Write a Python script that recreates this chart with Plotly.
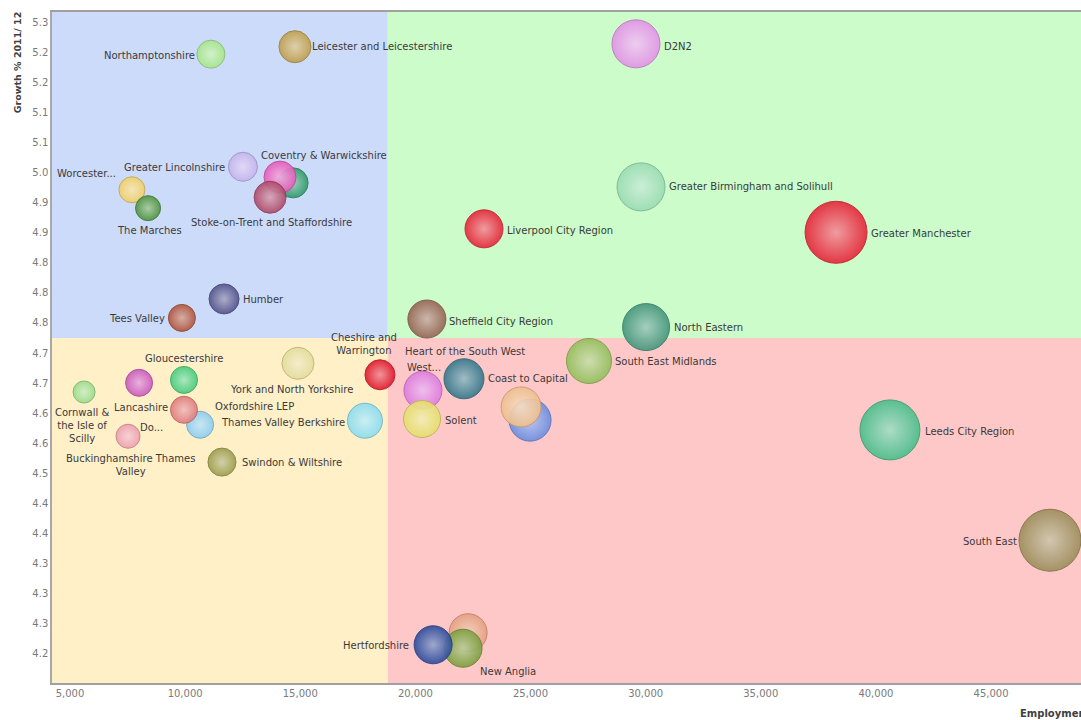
import plotly.graph_objects as go

# ---------------- data ----------------
lep_names = [
    "Northamptonshire", "Leicester and Leicestershire", "D2N2",
    "Worcestershire", "The Marches", "Greater Lincolnshire",
    "Black Country", "Coventry & Warwickshire", "Stoke-on-Trent and Staffordshire",
    "Humber", "Tees Valley", "Greater Birmingham and Solihull",
    "Liverpool City Region", "Greater Manchester", "Sheffield City Region",
    "North Eastern", "South East Midlands", "Cheshire and Warrington",
    "York and North Yorkshire", "Gloucestershire", "Cornwall & the Isle of Scilly",
    "Lancashire", "Dorset", "Oxfordshire LEP",
    "Buckinghamshire Thames Valley", "Swindon & Wiltshire", "Thames Valley Berkshire",
    "West of England", "Coast to Capital", "Solent",
    "Enterprise M3", "Heart of the South West", "Leeds City Region",
    "South East", "Greater Cambridge & Greater Peterborough", "New Anglia",
    "Hertfordshire",
]
display_labels = [
    "Northamptonshire", "Leicester and Leicestershire", "D2N2",
    "Worcester...", "The Marches", "Greater Lincolnshire",
    "", "Coventry & Warwickshire", "Stoke-on-Trent and Staffordshire",
    "Humber", "Tees Valley", "Greater Birmingham and Solihull",
    "Liverpool City Region", "Greater Manchester", "Sheffield City Region",
    "North Eastern", "South East Midlands", "Cheshire and<br>Warrington",
    "York and North Yorkshire", "Gloucestershire", "Cornwall &<br>the Isle of<br>Scilly",
    "Lancashire", "Do...", "Oxfordshire LEP",
    "Buckinghamshire Thames<br>Valley", "Swindon & Wiltshire", "Thames Valley Berkshire",
    "West...", "Coast to Capital", "Solent",
    "", "Heart of the South West", "Leeds City Region",
    "South East", "", "New Anglia",
    "Hertfordshire",
]
employment = [
    11120, 14770, 29580,
    7690, 8390, 12510,
    14690, 14120, 13690,
    11690, 9860, 29800,
    22980, 38270, 20500,
    30020, 27540, 18460,
    14900, 9950, 5610,
    8000, 10650, 9950,
    7520, 11600, 17810,
    20330, 22110, 20290,
    24980, 24590, 40610,
    47560, 22290, 22070,
    20770,
]
growth_pct = [
    5.244, 5.257, 5.262,
    5.008, 4.976, 5.048,
    5.020, 5.030, 4.995,
    4.818, 4.785, 5.013,
    4.940, 4.934, 4.783,
    4.769, 4.710, 4.686,
    4.706, 4.677, 4.656,
    4.672, 4.599, 4.625,
    4.579, 4.534, 4.606,
    4.659, 4.679, 4.609,
    4.607, 4.630, 4.590,
    4.398, 4.237, 4.210,
    4.216,
]
bubble_value = [
    28, 32, 48,
    26, 25, 29,
    30, 32, 32,
    30, 27, 48,
    38, 62, 38,
    47, 45, 30,
    32, 27, 22,
    27, 27, 27,
    24, 28, 35,
    38, 40, 37,
    42, 40, 60,
    62, 38, 38,
    38,
]

y_tick_vals = [4.2, 4.2524, 4.3048, 4.3571, 4.4095, 4.4619, 4.5143, 4.5667, 4.6190,
               4.6714, 4.7238, 4.7762, 4.8286, 4.8810, 4.9333, 4.9857, 5.0381,
               5.0905, 5.1429, 5.1952, 5.2476, 5.3]
y_tick_text = ["4.2", "4.3", "4.3", "4.3", "4.4", "4.4", "4.5", "4.6", "4.6", "4.7",
               "4.7", "4.8", "4.8", "4.8", "4.9", "4.9", "5.0", "5.1", "5.1", "5.2",
               "5.2", "5.3"]
x_tick_vals = [5000, 10000, 15000, 20000, 25000, 30000, 35000, 40000, 45000]
x_tick_text = ["5,000", "10,000", "15,000", "20,000", "25,000", "30,000", "35,000",
               "40,000", "45,000"]

emp_split = 18800
growth_split = 4.75

# ---------------- style ----------------
base_colors = [
    "#a6e68c", "#bf9f4e", "#e294e6",
    "#efcf6a", "#4f9440", "#c4b4ee",
    "#2f9a6c", "#e45cbc", "#ad4a6a",
    "#54548c", "#b0553e", "#9adcb2",
    "#e6283a", "#e6283a", "#976554",
    "#46977c", "#94bf5c", "#e01a2c",
    "#e4dc9a", "#48cc7c", "#9cdc8a",
    "#cc5abc", "#8ccdee", "#e07c7c",
    "#eea0ae", "#9e9e4c", "#8cdcee",
    "#de7cde", "#36788c", "#e6de6c",
    "#6e8ee0", "#eebe8e", "#4cbe8c",
    "#9e8e5c", "#e6a080", "#7e9e3e",
    "#2e4c9c",
]

label_style = {
    "Northamptonshire": ("right", -14, -1),
    "Leicester and Leicestershire": ("left", 15, 0),
    "D2N2": ("left", 26, -3),
    "Worcestershire": ("right", -14, 16),
    "The Marches": ("center", 1, -22),
    "Greater Lincolnshire": ("right", -16, -1),
    "Coventry & Warwickshire": ("left", -21, 22),
    "Stoke-on-Trent and Staffordshire": ("center", 1, -25),
    "Humber": ("left", 17, -1),
    "Tees Valley": ("right", -15, -1),
    "Greater Birmingham and Solihull": ("left", 26, 0),
    "Liverpool City Region": ("left", 21, -2),
    "Greater Manchester": ("left", 33, -1),
    "Sheffield City Region": ("left", 20, -2),
    "North Eastern": ("left", 26, 0),
    "South East Midlands": ("left", 24, -1),
    "Cheshire and Warrington": ("center", -16, 31),
    "York and North Yorkshire": ("center", -6, -26),
    "Gloucestershire": ("center", 0, 21),
    "Cornwall & the Isle of Scilly": ("center", -2, -33),
    "Lancashire": ("center", 2, -25),
    "Dorset": ("right", -35, -3),
    "Oxfordshire LEP": ("left", 29, 3),
    "Buckinghamshire Thames Valley": ("center", 2, -29),
    "Swindon & Wiltshire": ("left", 18, 0),
    "Thames Valley Berkshire": ("right", -18, -2),
    "West of England": ("center", 1, 23),
    "Coast to Capital": ("left", 22, 0),
    "Solent": ("left", 21, -1),
    "Heart of the South West": ("center", -56, 55),
    "Leeds City Region": ("left", 33, -2),
    "South East": ("right", -31, -1),
    "New Anglia": ("left", 15, -23),
    "Hertfordshire": ("right", -22, -1),
}


def blend(hexcol, target, t):
    h = hexcol.lstrip("#")
    r, g, b = int(h[0:2], 16), int(h[2:4], 16), int(h[4:6], 16)
    tr, tg, tb = target
    r = round(r + (tr - r) * t)
    g = round(g + (tg - g) * t)
    b = round(b + (tb - b) * t)
    return f"rgb({r},{g},{b})"


center_colors = [blend(c, (255, 255, 255), 0.5) for c in base_colors]
edge_colors = [blend(c, (0, 0, 0), 0.0) for c in base_colors]
line_colors = [blend(c, (0, 0, 0), 0.18) for c in base_colors]

FONT = "DejaVu Sans"

fig = go.Figure()

fig.add_trace(go.Scatter(
    x=employment, y=growth_pct, mode="markers",
    text=lep_names, hoverinfo="text",
    marker=dict(
        size=bubble_value, sizemode="diameter", sizeref=1,
        color=edge_colors, opacity=0.92,
        gradient=dict(type="radial", color=center_colors),
        line=dict(color=line_colors, width=1),
    ),
    showlegend=False,
))

# quadrant backgrounds
x_lo, x_hi = 4218, 48908
y_lo, y_hi = 4.1495, 5.3174
quads = [
    (x_lo, emp_split, growth_split, y_hi, "#cddbfa"),
    (emp_split, x_hi, growth_split, y_hi, "#ccfcca"),
    (x_lo, emp_split, y_lo, growth_split, "#fff0c8"),
    (emp_split, x_hi, y_lo, growth_split, "#ffc8c8"),
]
for x0, x1, y0, y1, c in quads:
    fig.add_shape(type="rect", xref="x", yref="y", x0=x0, x1=x1, y0=y0, y1=y1,
                  fillcolor=c, line=dict(width=0), layer="below")

annotations = []
for name, lab, xv, yv in zip(lep_names, display_labels, employment, growth_pct):
    if not lab:
        continue
    xa, xs, ys = label_style[name]
    annotations.append(dict(
        x=xv, y=yv, xref="x", yref="y", text=lab, showarrow=False,
        xanchor=xa, yanchor="middle", xshift=xs, yshift=ys, align="center",
        font=dict(family=FONT, size=10, color="#3a3a3a"),
    ))

annotations.append(dict(
    x=0, y=0.925, xref="paper", yref="paper", xshift=-35,
    text="<b>Growth % 2011/ 12</b>", textangle=-90, showarrow=False,
    xanchor="center", yanchor="middle",
    font=dict(family=FONT, size=9.5, color="#404040"),
))
annotations.append(dict(
    x=0.939, y=-0.045, xref="paper", yref="paper",
    text="<b>Employment</b>", showarrow=False,
    xanchor="left", yanchor="middle",
    font=dict(family=FONT, size=10, color="#404040"),
))

fig.update_layout(
    width=1081, height=720,
    margin=dict(l=52, r=0, t=12, b=37),
    paper_bgcolor="white", plot_bgcolor="white",
    annotations=annotations,
    xaxis=dict(
        range=[x_lo, x_hi], tickvals=x_tick_vals, ticktext=x_tick_text,
        showgrid=False, zeroline=False, showline=True, linecolor="#a0a0a0",
        linewidth=1.5, mirror=True, ticks="",
        tickfont=dict(family=FONT, size=10, color="#7a7a7a"),
    ),
    yaxis=dict(
        range=[y_lo, y_hi], tickvals=y_tick_vals, ticktext=y_tick_text,
        showgrid=False, zeroline=False, showline=True, linecolor="#a8a8a8",
        linewidth=1.5, mirror=False, ticks="",
        tickfont=dict(family=FONT, size=10, color="#7a7a7a"),
    ),
)

fig.write_html("out.html")
